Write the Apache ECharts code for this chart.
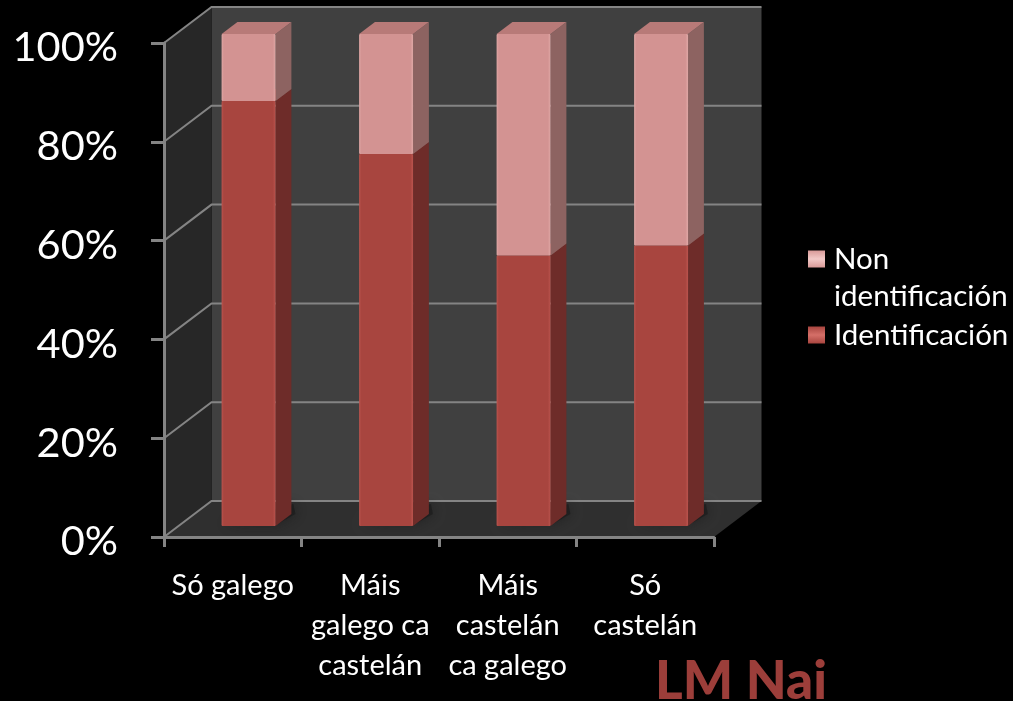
<!DOCTYPE html>
<html><head><meta charset="utf-8">
<style>html,body{margin:0;background:#000}#c{width:1013px;height:701px}</style>
<script src="https://cdn.jsdelivr.net/npm/echarts@6/dist/echarts.min.js"></script>
</head><body><div id="c"></div>
<script>
const categories = ['Só galego', 'Máis\ngalego ca\ncastelán', 'Máis\ncastelán\nca galego', 'Só\ncastelán'];
const identificacion = [86.4, 75.6, 55, 57];
const nonIdentificacion = [13.6, 24.4, 45, 43];
const yTicks = [0, 20, 40, 60, 80, 100];
const nameId = 'Identificación';
const nameNon = 'Non identificación';

// 3D projection of the depth axis, in pixels (style only)
const DEPTH_X = 47.5, DEPTH_Y = -36;
const BAR_FRONT = 1 / 3, BAR_BACK = 2 / 3, BAR_WIDTH_RATIO = 54 / 137.6, BAR_SCALE = 0.996, BAR_DROP = 1;
const FONT = 'Lato, Carlito, "Noto Sans", sans-serif';
const GRID_C = '#848484';

function shift(p, d) { return [p[0] + DEPTH_X * d, p[1] + DEPTH_Y * d]; }
function grad(c0, c1) {
  return new echarts.graphic.LinearGradient(0, 0, 1, 0, [
    { offset: 0, color: c1 }, { offset: 0.04, color: c0 },
    { offset: 0.95, color: c0 }, { offset: 1, color: c1 }]);
}
function poly(points, fill, extra) {
  return Object.assign({ type: 'polygon', shape: { points }, style: { fill } }, extra || {});
}

function renderWalls(params, api) {
  const a = api.coord([0, 0]), size = api.size([1, 1])[0];
  const x0 = a[0] - size / 2, x1 = x0 + size * categories.length;
  const yb = a[1], yt = api.coord([0, 100])[1];
  const children = [
    poly([shift([x0, yt], 1), shift([x1, yt], 1), shift([x1, yb], 1), shift([x0, yb], 1)], '#404040'),
    poly([[x0, yt], shift([x0, yt], 1), shift([x0, yb], 1), [x0, yb]], '#272727'),
    poly([[x0, yb], shift([x0, yb], 1), shift([x1, yb], 1), [x1, yb]], '#2f2f2f')
  ];
  yTicks.forEach(v => {
    const y = api.coord([0, v])[1];
    children.push({ type: 'polyline', shape: { points: [[x0, y], shift([x0, y], 1), shift([x1, y], 1)] },
      style: { stroke: GRID_C, lineWidth: 2, fill: null } });
  });
  return { type: 'group', children };
}

function barRenderer(frontC, edgeC, sideC, topC, hasShadow) {
  return function (params, api) {
    const cat = api.value(0), lo = api.value(1), hi = api.value(2);
    const size = api.size([1, 1])[0], w = size * BAR_WIDTH_RATIO;
    const cx = api.coord([cat, 0])[0];
    const y0 = api.coord([cat, 0])[1];
    const sy = v => y0 + BAR_DROP + (api.coord([cat, v])[1] - y0) * BAR_SCALE;
    const yl = sy(lo), yh = sy(hi);
    const xl = cx - w / 2, xr = cx + w / 2;
    const fl = shift([xl, yl], BAR_FRONT), fr = shift([xr, yl], BAR_FRONT);
    const fh = shift([xl, yh], BAR_FRONT), frh = shift([xr, yh], BAR_FRONT);
    const bd = BAR_BACK - BAR_FRONT;
    const sh = p => shift(p, bd);
    const children = [];
    if (hasShadow) {
      const s = 'rgba(24,24,24,0.55)';
      children.push({ type: 'polygon',
        shape: { points: [[fl[0] + 2, fl[1] - 2], [fr[0] + 2, fr[1] - 2], [sh(fr)[0] + 4, sh(fr)[1]], [sh(fr)[0] + 2, sh(fr)[1] - 10]] },
        style: { fill: s, shadowBlur: 12, shadowColor: 'rgba(20,20,20,0.9)' } });
    }
    children.push(poly([fr, sh(fr), sh(frh), frh], sideC));
    children.push(poly([fh, frh, sh(frh), sh(fh)], topC));
    children.push({ type: 'rect', shape: { x: fh[0], y: fh[1], width: w, height: fl[1] - fh[1], r: 1 },
      style: { fill: grad(frontC, edgeC) } });
    return { type: 'group', children };
  };
}

const idData = identificacion.map((v, i) => [i, 0, v]);
const nonData = nonIdentificacion.map((v, i) => [i, identificacion[i], identificacion[i] + v]);

const pyramid = (hi, lo) => new echarts.graphic.LinearGradient(0, 0, 0, 1, [
  { offset: 0, color: hi }, { offset: 0.5, color: lo }, { offset: 1, color: hi }]);

const chart = echarts.init(document.getElementById('c'), null, { renderer: 'canvas' });
chart.setOption({
  animation: false,
  backgroundColor: '#000',
  grid: { left: 164, right: 299, top: 43, bottom: 164 },
  title: { text: 'LM Nai', left: 655, top: 655, padding: 0,
    textStyle: { color: '#9c3e3a', fontFamily: FONT, fontWeight: 900, fontSize: 53 } },
  legend: {
    orient: 'vertical', left: 808, top: 240, padding: 0, itemGap: 38, itemWidth: 17, itemHeight: 17,
    icon: 'rect', selectedMode: false,
    data: [
      { name: nameNon, itemStyle: { color: pyramid('#d99a98', '#f2c9c7') } },
      { name: nameId, itemStyle: { color: pyramid('#a8453f', '#d56f68') } }
    ],
    formatter: n => n.split(' ')[0],
    textStyle: { color: '#fff', fontFamily: FONT, fontSize: 29.5, lineHeight: 38, padding: [0, 0, 0, 4] }
  },
  graphic: [{ type: 'text', left: 834, top: 281,
    style: { text: nameNon.split(' ')[1], fill: '#fff', font: '29.5px ' + FONT } }],
  xAxis: {
    type: 'category', data: categories, z: 5,
    axisLine: { lineStyle: { color: GRID_C, width: 3 } },
    axisTick: { show: true, length: 10, alignWithLabel: false, lineStyle: { color: GRID_C, width: 3 } },
    axisLabel: { color: '#fff', fontFamily: FONT, fontSize: 29, lineHeight: 40, margin: 29, interval: 0 }
  },
  yAxis: {
    type: 'value', min: 0, max: 100, interval: 20, z: 5,
    axisLine: { show: true, lineStyle: { color: GRID_C, width: 3 } },
    axisTick: { show: true, length: 13, lineStyle: { color: GRID_C, width: 3 } },
    splitLine: { show: false },
    axisLabel: { color: '#fff', fontFamily: FONT, fontSize: 41.5, margin: 46, verticalAlign: 'top', lineHeight: 10, formatter: '{value}%' }
  },
  series: [
    { type: 'custom', name: 'walls', silent: true, z: 1, data: [[0]], encode: { x: 0 }, renderItem: renderWalls },
    { type: 'custom', name: nameId, z: 2, data: idData, encode: { x: 0, y: [1, 2] },
      itemStyle: { color: '#a8453f' },
      renderItem: barRenderer('#a8453f', '#bb544e', '#6e2c29', '#8a3a36', true) },
    { type: 'custom', name: nameNon, z: 3, data: nonData, encode: { x: 0, y: [1, 2] },
      itemStyle: { color: '#d49594' },
      renderItem: barRenderer('#d39392', '#e0a8a6', '#8d6361', '#b87a78', false) }
  ]
});
</script></body></html>
